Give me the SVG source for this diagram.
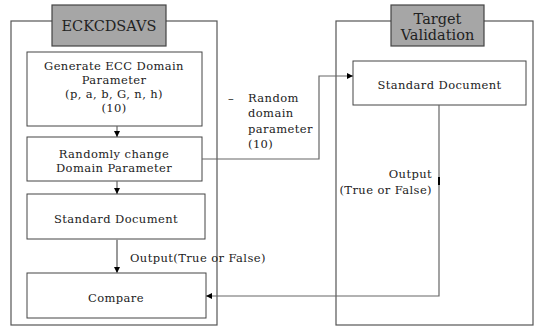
<svg xmlns="http://www.w3.org/2000/svg" width="536" height="327" viewBox="0 0 536 327">
<style>
.frame{fill:#fff;stroke:#555;stroke-width:1.2}
.box{fill:#fff;stroke:#444;stroke-width:1}
.title{fill:#a6a6a6;stroke:#444;stroke-width:1.2}
.t{font-family:"DejaVu Serif","Liberation Serif",serif;font-size:11.5px;letter-spacing:0.4px;fill:#222;text-anchor:middle}
.tt{font-family:"DejaVu Serif","Liberation Serif",serif;font-size:14.5px;fill:#222;text-anchor:middle}
.tl{font-family:"DejaVu Serif","Liberation Serif",serif;font-size:11.5px;letter-spacing:0.4px;fill:#222}
.c{fill:none;stroke:#666;stroke-width:1.2}
.cg{fill:none;stroke:#999;stroke-width:2}
</style>
<defs>
<marker id="ah" viewBox="0 0 10 10" refX="10" refY="5" markerWidth="6" markerHeight="6" orient="auto" markerUnits="userSpaceOnUse">
<path d="M0,0 L10,5 L0,10 z" fill="#000"/>
</marker>
</defs>
<rect width="536" height="327" fill="#fff"/>
<g id="frame-left">
<rect class="frame" x="11" y="21" width="206" height="304"/>
</g>
<g id="frame-right">
<rect class="frame" x="336" y="21" width="197" height="304"/>
</g>
<g id="title-left">
<rect class="title" x="52" y="5" width="114" height="41"/>
<text class="tt" x="109" y="31">ECKCDSAVS</text>
</g>
<g id="title-right">
<rect class="title" x="391" y="5" width="93" height="41"/>
<text class="tt" x="437.5" y="24">Target</text>
<text class="tt" x="437.5" y="40">Validation</text>
</g>
<g id="generate">
<rect class="box" x="27" y="52" width="175" height="74"/>
<text class="t" x="114" y="70">Generate ECC Domain</text>
<text class="t" x="114" y="84">Parameter</text>
<text class="t" x="114" y="98">(p, a, b, G, n, h)</text>
<text class="t" x="114" y="112">(10)</text>
</g>
<g id="randomly">
<rect class="box" x="27" y="137" width="175" height="44"/>
<text class="t" x="114" y="158">Randomly change</text>
<text class="t" x="114" y="172">Domain Parameter</text>
</g>
<g id="stddoc-left">
<rect class="box" x="27" y="194" width="178" height="45"/>
<text class="t" x="116" y="223">Standard Document</text>
</g>
<g id="compare">
<rect class="box" x="27" y="273" width="179" height="45"/>
<text class="t" x="116" y="302">Compare</text>
</g>
<g id="stddoc-right">
<rect class="box" x="353" y="61" width="173" height="44"/>
<text class="t" x="439.5" y="89">Standard Document</text>
</g>
<g id="connectors">
<line class="c" x1="117" y1="126" x2="117" y2="137" marker-end="url(#ah)"/>
<line class="c" x1="117" y1="181" x2="117" y2="194" marker-end="url(#ah)"/>
<line class="cg" x1="117" y1="239" x2="117" y2="273" marker-end="url(#ah)"/>
<polyline class="c" points="202,159 319,159 319,76 353,76" marker-end="url(#ah)"/>
<polyline class="c" points="439,105 439,296 206,296" marker-end="url(#ah)"/>
<line x1="439" y1="177" x2="439" y2="185" stroke="#000" stroke-width="2"/>
</g>
<g id="labels">
<text class="tl" x="228" y="102">–</text>
<text class="tl" x="248" y="102">Random</text>
<text class="tl" x="248" y="117">domain</text>
<text class="tl" x="248" y="133">parameter</text>
<text class="tl" x="248" y="148">(10)</text>
<text class="tl" x="130" y="262">Output(True or False)</text>
<text class="tl" x="432" y="178" text-anchor="end">Output</text>
<text class="tl" x="432" y="194" text-anchor="end">(True or False)</text>
</g>
</svg>
